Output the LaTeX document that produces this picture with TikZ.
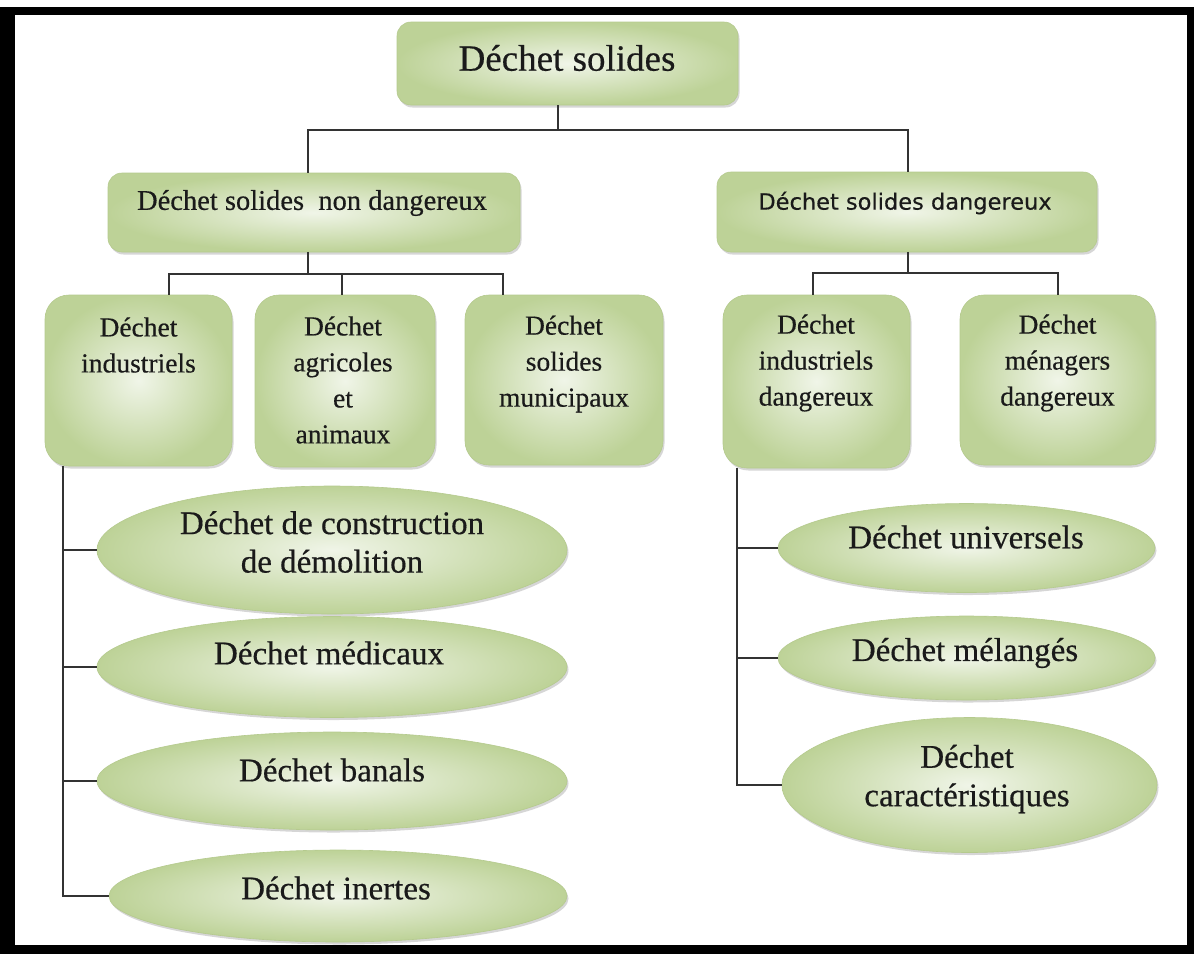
\documentclass[tikz,border=0pt]{standalone}
\usepackage{fontspec}
\setmainfont{Liberation Serif}[FakeBold=0.45]
\newfontfamily\sansf{DejaVu Sans}[FakeBold=0.3]
\usetikzlibrary{shapes.geometric,shadows}
\definecolor{gdark}{HTML}{BDD297}
\definecolor{glight}{HTML}{F0F5E8}
\definecolor{gedge}{HTML}{B5CA8E}
\definecolor{txt}{HTML}{1A1A1A}
\definecolor{lnk}{HTML}{333333}
\begin{document}
\begin{tikzpicture}[x=1pt,y=-1pt,
  shapebase/.style={draw=gedge, line width=0.6pt, inner color=glight, outer color=gdark,
    drop shadow={shadow xshift=1.5pt, shadow yshift=-2.5pt, opacity=0.35, fill=black!45}},
  rbox/.style={shapebase, rectangle, rounded corners=14pt, inner sep=0pt},
  tallbox/.style={shapebase, rectangle, rounded corners=24pt, inner sep=0pt},
  oval/.style={shapebase, ellipse, inner sep=0pt},
  ltxt/.style={text=txt, align=center, inner sep=0pt, font=\fontsize{27.5}{36}\selectfont},
  etxt/.style={text=txt, align=center, inner sep=0pt, font=\fontsize{33}{38.5}\selectfont},
  conn/.style={draw=lnk, line width=2pt}]
\useasboundingbox (0,0) rectangle (1198,954);
% frame
\fill[white] (0,0) rectangle (1198,954);
\fill[black] (0,7) rectangle (1194,954);
\fill[white] (15,15) rectangle (1187,945);

% junction coordinates
\coordinate (j0) at (558,130);
\coordinate (j0L) at (308,130);
\coordinate (j0R) at (908,130);
\coordinate (j1) at (308,274);
\coordinate (j1a) at (169,274);
\coordinate (j1b) at (342,274);
\coordinate (j1c) at (503,274);
\coordinate (j2) at (908,273);
\coordinate (j2a) at (813,273);
\coordinate (j2b) at (1058,273);
\coordinate (bxl) at (63,0);
\coordinate (bxr) at (737,0);

% shapes
\node[rbox, minimum width=341pt, minimum height=83pt] (top) at (567.5,63.5) {};
\node[rbox, minimum width=412pt, minimum height=79pt] (l2l) at (314,212.5) {};
\node[rbox, minimum width=380pt, minimum height=80pt] (l2r) at (907,212) {};

\node[tallbox, minimum width=187pt, minimum height=171pt] (ba) at (138.5,380.5) {};
\node[tallbox, minimum width=180pt, minimum height=172pt] (bb) at (345,381) {};
\node[tallbox, minimum width=198pt, minimum height=170pt] (bc) at (564,380) {};
\node[tallbox, minimum width=187pt, minimum height=173pt] (bd) at (816.5,381.5) {};
\node[tallbox, minimum width=195pt, minimum height=170pt] (be) at (1057.5,380) {};

\node[oval, minimum width=470pt, minimum height=128pt] (e1) at (332,550) {};
\node[oval, minimum width=470pt, minimum height=101pt] (e2) at (332,667) {};
\node[oval, minimum width=470pt, minimum height=98pt] (e3) at (332,781) {};
\node[oval, minimum width=458pt, minimum height=92pt] (e4) at (338,896) {};

\node[oval, minimum width=377pt, minimum height=89pt] (r1) at (966.5,548) {};
\node[oval, minimum width=377pt, minimum height=84pt] (r2) at (966.5,658) {};
\node[oval, minimum width=375pt, minimum height=135pt] (r3) at (969.5,785) {};

% texts
\node[ltxt, font=\fontsize{37}{44}\selectfont] (topt) at (567,58) {Déchet solides};
\node[ltxt, font=\fontsize{28.5}{34}\selectfont] (l2lt) at (312,203) {Déchet solides~ non dangereux};
\node[ltxt, font=\sansf\fontsize{22.5}{28}\selectfont] (l2rt) at (905,203) {Déchet solides dangereux};

\node[ltxt] (bat) at (138.5,345) {Déchet\\industriels};
\node[ltxt] (bbt) at (343,380) {Déchet\\agricoles\\et\\animaux};
\node[ltxt] (bct) at (564,364) {Déchet\\solides\\municipaux};
\node[ltxt] (bdt) at (816,363) {Déchet\\industriels\\dangereux};
\node[ltxt] (bet) at (1057.5,363) {Déchet\\ménagers\\dangereux};

\node[etxt] (e1t) at (332,542) {Déchet de construction\\de démolition};
\node[etxt] (e2t) at (329,653) {Déchet médicaux};
\node[etxt] (e3t) at (332,770) {Déchet banals};
\node[etxt] (e4t) at (336,888) {Déchet inertes};

\node[etxt] (r1t) at (966,537) {Déchet universels};
\node[etxt] (r2t) at (965,653) {Déchet mélangés};
\node[etxt] (r3t) at (967,779) {Déchet\\caractéristiques};

% connectors
\draw[conn] (top.south -| j0) -- (j0);
\draw[conn] (l2l.north -| j0L) |- (j0R) -- (l2r.north -| j0R);

\draw[conn] (l2l.south -| j1) -- (j1);
\draw[conn] (ba.north -| j1a) |- (j1c) -- (bc.north -| j1c);
\draw[conn] (j1b) -- (bb.north -| j1b);

\draw[conn] (l2r.south -| j2) -- (j2);
\draw[conn] (bd.north -| j2a) |- (j2b) -- (be.north -| j2b);

\draw[conn] (ba.south -| bxl) |- (e4.west);
\draw[conn] (e1.west -| bxl) -- (e1.west);
\draw[conn] (e2.west -| bxl) -- (e2.west);
\draw[conn] (e3.west -| bxl) -- (e3.west);

\draw[conn] (bd.south -| bxr) |- (r3.west);
\draw[conn] (r1.west -| bxr) -- (r1.west);
\draw[conn] (r2.west -| bxr) -- (r2.west);
\end{tikzpicture}
\end{document}
